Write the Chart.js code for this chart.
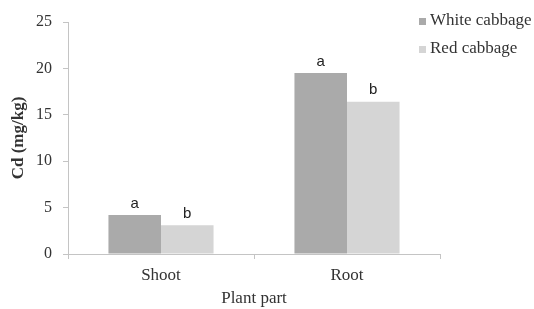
<!DOCTYPE html>
<html>
<head>
<meta charset="utf-8">
<script src="https://cdn.jsdelivr.net/npm/chart.js@4/dist/chart.umd.min.js"></script>
<style>
  html, body { margin: 0; padding: 0; background: #fff; }
  #wrap { width: 534px; height: 309px; }
</style>
</head>
<body>
<div id="wrap"><canvas id="c" width="534" height="309"></canvas></div>
<script>
// chart data
const categories = ['Shoot', 'Root'];
const whiteCabbage = [4.2, 19.5];
const redCabbage = [3.1, 16.4];
const whiteLetters = ['a', 'a'];
const redLetters = ['b', 'b'];
const yTicks = [0, 5, 10, 15, 20, 25];

const serif = '"Liberation Serif", "Times New Roman", serif';
const axisGrey = '#c4c4c4';
const textColor = '#333';

// draws the a/b letters over bars and the legend in the top right corner
const extrasPlugin = {
    id: 'extras',
    afterDatasetsDraw(chart) {
        const ctx = chart.ctx;
        const letters = [whiteLetters, redLetters];
        ctx.save();
        ctx.fillStyle = '#222';
        ctx.font = '15px "Liberation Sans", Arial, sans-serif';
        ctx.textAlign = 'center';
        ctx.textBaseline = 'bottom';
        chart.data.datasets.forEach((ds, i) => {
            chart.getDatasetMeta(i).data.forEach((bar, j) => {
                ctx.fillText(letters[i][j], bar.x, bar.y - 4);
            });
        });

        // legend
        ctx.font = '17px ' + serif;
        ctx.textAlign = 'left';
        ctx.textBaseline = 'middle';
        const rows = [21, 49];
        chart.data.datasets.forEach((ds, i) => {
            ctx.fillStyle = ds.backgroundColor;
            ctx.fillRect(419, rows[i] - 3, 7, 7);
            ctx.fillStyle = textColor;
            ctx.fillText(ds.label, 430, rows[i]);
        });
        ctx.restore();
    }
};

new Chart(document.getElementById('c'), {
    type: 'bar',
    data: {
        labels: categories,
        datasets: [
            { label: 'White cabbage', data: whiteCabbage, backgroundColor: '#aaaaaa' },
            { label: 'Red cabbage', data: redCabbage, backgroundColor: '#d5d5d5' }
        ]
    },
    options: {
        responsive: false,
        animation: false,
        devicePixelRatio: 1,
        layout: { padding: { top: 22, right: 94, left: 8, bottom: 0 } },
        categoryPercentage: 0.565,
        barPercentage: 1.0,
        plugins: {
            legend: { display: false },
            tooltip: { enabled: false }
        },
        scales: {
            x: {
                afterFit(axis) { axis.height = 55; },
                grid: {
                    offset: true,
                    drawOnChartArea: false,
                    color: axisGrey,
                    tickLength: 5
                },
                border: { color: axisGrey },
                ticks: { color: textColor, font: { family: serif, size: 17 }, padding: 6 },
                title: {
                    display: true,
                    text: 'Plant part',
                    color: textColor,
                    font: { family: serif, size: 17 },
                    padding: { top: 4, bottom: 0 }
                }
            },
            y: {
                min: 0,
                max: 25,
                afterBuildTicks(axis) {
                    axis.ticks = yTicks.map(v => ({ value: v }));
                },
                afterFit(axis) { axis.width = 60; },
                grid: {
                    drawOnChartArea: false,
                    color: axisGrey,
                    tickLength: 5
                },
                border: { color: axisGrey },
                ticks: { color: textColor, font: { family: serif, size: 16 }, padding: 11 },
                title: {
                    display: true,
                    text: 'Cd (mg/kg)',
                    color: textColor,
                    font: { family: serif, size: 17, weight: 'bold' },
                    padding: { top: 0, bottom: 8 }
                }
            }
        }
    },
    plugins: [extrasPlugin]
});
</script>
</body>
</html>
